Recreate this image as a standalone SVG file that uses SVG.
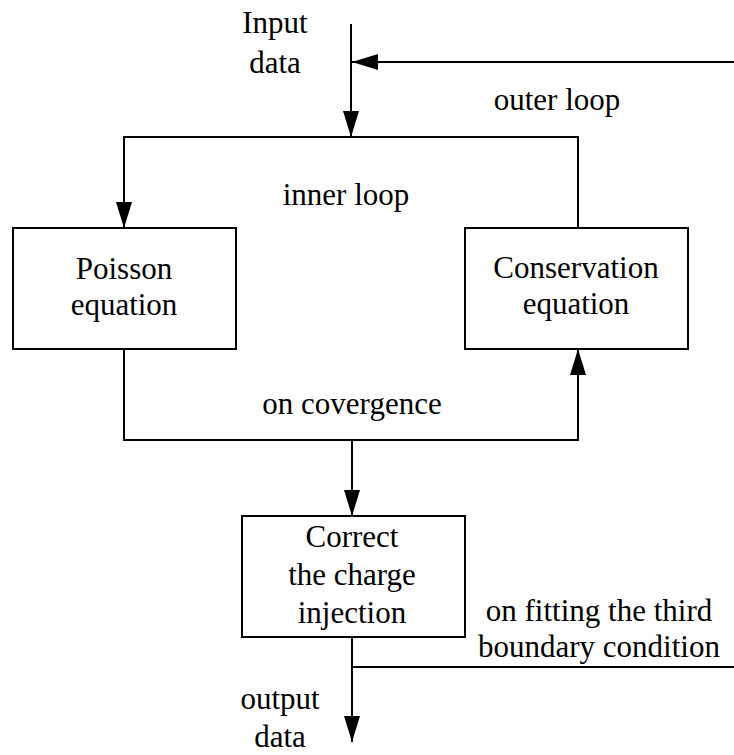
<svg xmlns="http://www.w3.org/2000/svg" width="734" height="755" viewBox="0 0 734 755" font-family="'Liberation Serif', 'Times New Roman', serif">
  <style>
    .box { fill: #ffffff; stroke: #000000; stroke-width: 2; }
    .wire { fill: none; stroke: #000000; stroke-width: 2; }
    text { font-size: 31px; fill: #000000; text-anchor: middle; }
  </style>
  <defs>
    <marker id="arrow" markerUnits="userSpaceOnUse" viewBox="0 0 26 16" refX="26" refY="8" markerWidth="26" markerHeight="16" orient="auto">
      <path d="M0,0 L26,8 L0,16 Z" fill="#000000"/>
    </marker>
  </defs>

  <rect width="734" height="755" fill="#ffffff"/>

  <g id="connectors">
    <!-- input data into the outer loop -->
    <line class="wire" x1="351" y1="24" x2="351" y2="137" marker-end="url(#arrow)"/>
    <!-- outer loop return -->
    <line class="wire" x1="734" y1="62" x2="352" y2="62" marker-end="url(#arrow)"/>
    <!-- inner loop top rail -->
    <polyline class="wire" points="578,228 578,137 124,137 124,228" marker-end="url(#arrow)"/>
    <!-- convergence rail -->
    <polyline class="wire" points="124,349 124,440 578,440 578,349" marker-end="url(#arrow)"/>
    <!-- to charge correction -->
    <line class="wire" x1="352" y1="440" x2="352" y2="516" marker-end="url(#arrow)"/>
    <!-- output -->
    <line class="wire" x1="352" y1="637" x2="352" y2="742" marker-end="url(#arrow)"/>
    <!-- boundary condition feedback -->
    <line class="wire" x1="352" y1="667" x2="734" y2="667"/>
  </g>

  <g id="poisson">
    <rect class="box" x="13" y="228" width="223" height="121"/>
    <text x="124" y="279">Poisson</text>
    <text x="124" y="315">equation</text>
  </g>

  <g id="conservation">
    <rect class="box" x="465" y="228" width="223" height="121"/>
    <text x="576" y="278">Conservation</text>
    <text x="576" y="314">equation</text>
  </g>

  <g id="correct">
    <rect class="box" x="242" y="516" width="223" height="121"/>
    <text x="352" y="547">Correct</text>
    <text x="352" y="585">the charge</text>
    <text x="352" y="623">injection</text>
  </g>

  <g id="labels">
    <text x="275" y="33">Input</text>
    <text x="275" y="73">data</text>
    <text x="557" y="110">outer loop</text>
    <text x="346" y="205">inner loop</text>
    <text x="352" y="414">on covergence</text>
    <text x="599" y="621">on fitting the third</text>
    <text x="599" y="657">boundary condition</text>
    <text x="280" y="709">output</text>
    <text x="280" y="747">data</text>
  </g>
</svg>
